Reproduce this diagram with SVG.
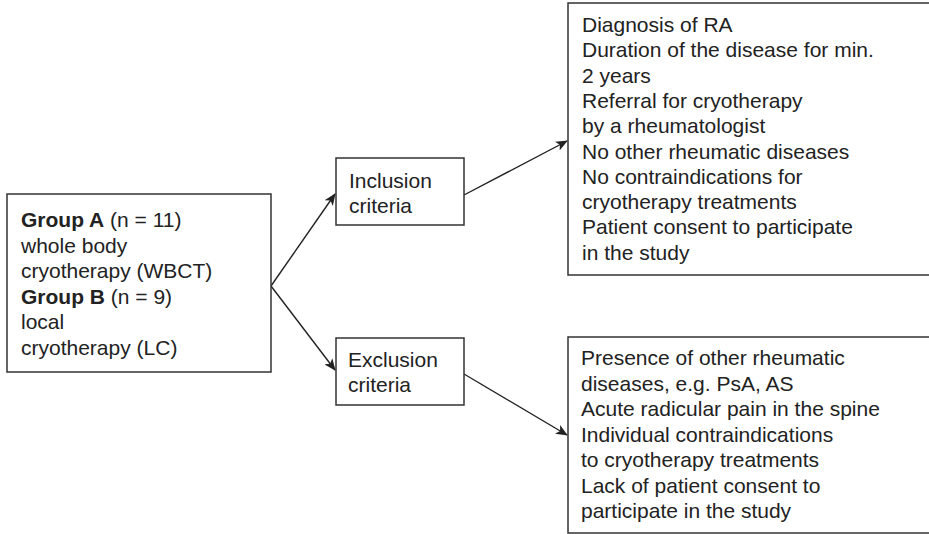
<svg xmlns="http://www.w3.org/2000/svg" width="929" height="534" viewBox="0 0 929 534">
<defs>
<style>
.box{fill:#fff;stroke:#333;stroke-width:1.5}
.t{font-family:"Liberation Sans",Arial,Helvetica,sans-serif;font-size:21px;fill:#222}
.b{font-weight:bold}
.c{stroke:#222;stroke-width:1.4;fill:none}
</style>
<marker id="ah" markerWidth="12" markerHeight="10" refX="11" refY="5" orient="auto" markerUnits="userSpaceOnUse">
<path d="M0,0 L12,5 L0,10 L3,5 Z" fill="#222"/>
</marker>
</defs>
<rect width="929" height="534" fill="#fff"/>
<g id="connectors">
<line class="c" x1="271" y1="286" x2="335" y2="194" marker-end="url(#ah)"/>
<line class="c" x1="271" y1="286" x2="335" y2="370" marker-end="url(#ah)"/>
<line class="c" x1="464" y1="195" x2="567" y2="141" marker-end="url(#ah)"/>
<line class="c" x1="464" y1="374" x2="567" y2="435" marker-end="url(#ah)"/>
</g>
<g id="groups">
<rect class="box" x="7" y="194" width="264" height="178"/>
<text class="t" x="21" y="227"><tspan class="b">Group A</tspan> (n = 11)</text>
<text class="t" x="21" y="252.5">whole body</text>
<text class="t" x="21" y="278">cryotherapy (WBCT)</text>
<text class="t" x="21" y="303.5"><tspan class="b">Group B</tspan> (n = 9)</text>
<text class="t" x="21" y="329">local</text>
<text class="t" x="21" y="354.5">cryotherapy (LC)</text>
</g>
<g id="inclusion">
<rect class="box" x="336" y="158" width="128" height="67"/>
<text class="t" x="349" y="188">Inclusion</text>
<text class="t" x="349" y="213">criteria</text>
</g>
<g id="exclusion">
<rect class="box" x="336" y="338" width="128" height="67"/>
<text class="t" x="348" y="367">Exclusion</text>
<text class="t" x="348" y="392">criteria</text>
</g>
<g id="inclusion-list">
<rect class="box" x="568" y="3" width="370" height="272"/>
<text class="t" x="582" y="32">Diagnosis of RA</text>
<text class="t" x="582" y="57.3">Duration of the disease for min.</text>
<text class="t" x="582" y="82.6">2 years</text>
<text class="t" x="582" y="107.9">Referral for cryotherapy</text>
<text class="t" x="582" y="133.2">by a rheumatologist</text>
<text class="t" x="582" y="158.5">No other rheumatic diseases</text>
<text class="t" x="582" y="183.8">No contraindications for</text>
<text class="t" x="582" y="209.1">cryotherapy treatments</text>
<text class="t" x="582" y="234.4">Patient consent to participate</text>
<text class="t" x="582" y="259.7">in the study</text>
</g>
<g id="exclusion-list">
<rect class="box" x="568" y="337" width="370" height="196"/>
<text class="t" x="581" y="365">Presence of other rheumatic</text>
<text class="t" x="581" y="390.5">diseases, e.g. PsA, AS</text>
<text class="t" x="581" y="416">Acute radicular pain in the spine</text>
<text class="t" x="581" y="441.5">Individual contraindications</text>
<text class="t" x="581" y="467">to cryotherapy treatments</text>
<text class="t" x="581" y="492.5">Lack of patient consent to</text>
<text class="t" x="581" y="518">participate in the study</text>
</g>
</svg>
